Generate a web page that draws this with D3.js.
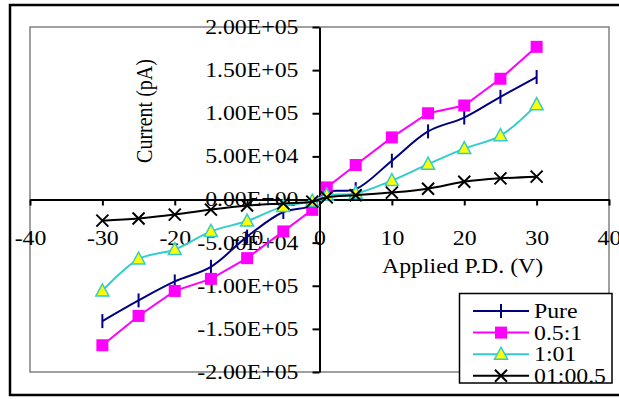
<!DOCTYPE html>
<html>
<head>
<meta charset="utf-8">
<script src="https://cdn.jsdelivr.net/npm/d3@7"></script>
<style>
  body { margin: 0; background: #fff; }
  svg { display: block; font-family: "Liberation Serif", "Times New Roman", serif; }
</style>
</head>
<body>
<div id="chart"></div>
<script>
// applied voltage (V)
const voltages = [-30, -25, -20, -15, -10, -5, -1, 1, 5, 10, 15, 20, 25, 30];
// current readings in pA
const pure   = [-141000, -117000, -95000, -78000, -43000, -14500, -7000, 8500, 12000, 45000, 79000, 95000, 119000, 142000];
const ratio051 = [-169000, -135000, -106000, -92000, -68000, -37000, -12000, 14000, 40000, 72000, 100000, 109000, 140000, 177000];
const ratio101 = [-106000, -69000, -58000, -37000, -25000, -8000, -2000, 5000, 7000, 22000, 41000, 59000, 74000, 110000];
const ratio01005 = [-24500, -22000, -17500, -11700, -7000, -4500, -2500, 2500, 5000, 8000, 12500, 20500, 24500, 26500];

const seriesNames = ["Pure", "0.5:1", "1:01", "01:00.5"];
const xTicks = [-40, -30, -20, -10, 0, 10, 20, 30, 40];
const yTicks = [-200000, -150000, -100000, -50000, 0, 50000, 100000, 150000, 200000];

const W = 619, H = 399;
const plot = { left: 30, right: 609, top: 27, bottom: 372 };
const stretchX = 1.19; // the original picture is a bit wider than tall, text too

const svg = d3.select("#chart").append("svg")
  .attr("width", W)
  .attr("height", H);

// outer chart border
svg.append("rect")
  .attr("x", 10).attr("y", 5)
  .attr("width", 612).attr("height", 390)
  .attr("fill", "#fff")
  .attr("stroke", "#000")
  .attr("stroke-width", 2.5);

// plot area
svg.append("rect")
  .attr("x", plot.left).attr("y", plot.top)
  .attr("width", plot.right - plot.left).attr("height", plot.bottom - plot.top)
  .attr("fill", "#fff")
  .attr("stroke", "#808080")
  .attr("stroke-width", 1.5);

const x = d3.scaleLinear().domain([-40, 40]).range([plot.left, plot.right]);
const y = d3.scaleLinear().domain([-200000, 200000]).range([plot.bottom, plot.top]);

function sci(v) {
  if (v === 0) return "0.00E+00";
  const s = v.toExponential(2).split("e");
  const exp = +s[1];
  return s[0] + "E" + (exp < 0 ? "-" : "+") + String(Math.abs(exp)).padStart(2, "0");
}

// widen a text around its own x anchor
function stretch(sel) {
  sel.each(function() {
    const t = d3.select(this);
    const tx = +t.attr("x") || 0;
    t.attr("transform", "translate(" + tx + ",0) scale(" + stretchX + ",1) translate(" + (-tx) + ",0)");
  });
}

// axes cross at zero
const yAxis = svg.append("g")
  .attr("transform", "translate(" + x(0) + ",0)")
  .call(d3.axisLeft(y).tickValues(yTicks).tickFormat(sci).tickSize(7).tickSizeOuter(0).tickPadding(14));

const xAxis = svg.append("g")
  .attr("transform", "translate(0," + y(0) + ")")
  .call(d3.axisBottom(x).tickValues(xTicks).tickFormat(d3.format("d")).tickSize(6).tickSizeOuter(0).tickPadding(25));

[yAxis, xAxis].forEach(function(a) {
  a.select(".domain").attr("stroke", "#000").attr("stroke-width", 2);
  a.selectAll(".tick line").attr("stroke", "#000").attr("stroke-width", 2);
  a.selectAll(".tick text")
    .attr("fill", "#000")
    .style("font-family", "'Liberation Serif', serif")
    .style("font-size", "20px")
    .call(stretch);
});
xAxis.selectAll(".tick text").text(d => d < 0 ? "-" + Math.abs(d) : d);

// axis titles
svg.append("text")
  .attr("transform", "translate(152,111) scale(" + stretchX + ",1) rotate(-90)")
  .attr("text-anchor", "middle")
  .style("font-size", "20px")
  .text("Current (pA)");

svg.append("text")
  .attr("x", 382).attr("y", 273)
  .style("font-size", "20px")
  .call(stretch)
  .text("Applied P.D. (V)");

const series = [
  { name: seriesNames[0], values: pure, color: "#000080", marker: "dash", smooth: true },
  { name: seriesNames[1], values: ratio051, color: "#ff00ff", marker: "square", smooth: false },
  { name: seriesNames[2], values: ratio101, color: "#33cccc", marker: "triangle", smooth: true },
  { name: seriesNames[3], values: ratio01005, color: "#000000", marker: "cross", smooth: true }
];

function drawMarker(g, type, color, cx, cy) {
  if (type === "dash") {
    g.append("line")
      .attr("x1", cx).attr("x2", cx)
      .attr("y1", cy - 7).attr("y2", cy + 7)
      .attr("stroke", color).attr("stroke-width", 2);
  } else if (type === "square") {
    g.append("rect")
      .attr("x", cx - 6).attr("y", cy - 6)
      .attr("width", 12).attr("height", 12)
      .attr("fill", color);
  } else if (type === "triangle") {
    g.append("path")
      .attr("d", "M" + cx + "," + (cy - 7) + "L" + (cx + 6.5) + "," + (cy + 5) + "L" + (cx - 6.5) + "," + (cy + 5) + "Z")
      .attr("fill", "#ffff00")
      .attr("stroke", color).attr("stroke-width", 1.5);
  } else {
    g.append("path")
      .attr("d", "M" + (cx - 6) + "," + (cy - 6) + "L" + (cx + 6) + "," + (cy + 6) +
                 "M" + (cx + 6) + "," + (cy - 6) + "L" + (cx - 6) + "," + (cy + 6))
      .attr("stroke", color).attr("stroke-width", 2);
  }
}

series.forEach(function(s) {
  const pts = voltages.map((v, i) => [v, s.values[i]]);
  const line = d3.line()
    .x(d => x(d[0]))
    .y(d => y(d[1]))
    .curve(s.smooth ? d3.curveCatmullRom.alpha(0.5) : d3.curveLinear);

  const g = svg.append("g").attr("class", "series");
  g.append("path")
    .datum(pts)
    .attr("d", line)
    .attr("fill", "none")
    .attr("stroke", s.color)
    .attr("stroke-width", 2);

  pts.forEach(function(p) {
    drawMarker(g, s.marker, s.color, x(p[0]), y(p[1]));
  });
});

// legend
const legend = svg.append("g").attr("class", "legend");
legend.append("rect")
  .attr("x", 459.5).attr("y", 293.5)
  .attr("width", 152.5).attr("height", 89.5)
  .attr("fill", "#fff")
  .attr("stroke", "#000")
  .attr("stroke-width", 1.5);

series.forEach(function(s, i) {
  const ly = 311 + i * 21.6;
  legend.append("line")
    .attr("x1", 473).attr("x2", 529)
    .attr("y1", ly).attr("y2", ly)
    .attr("stroke", s.color).attr("stroke-width", 2);
  drawMarker(legend, s.marker, s.color, 501, ly);
  legend.append("text")
    .attr("x", 534).attr("y", ly + 7)
    .style("font-size", "20px")
    .call(stretch)
    .text(s.name);
});
</script>
</body>
</html>
